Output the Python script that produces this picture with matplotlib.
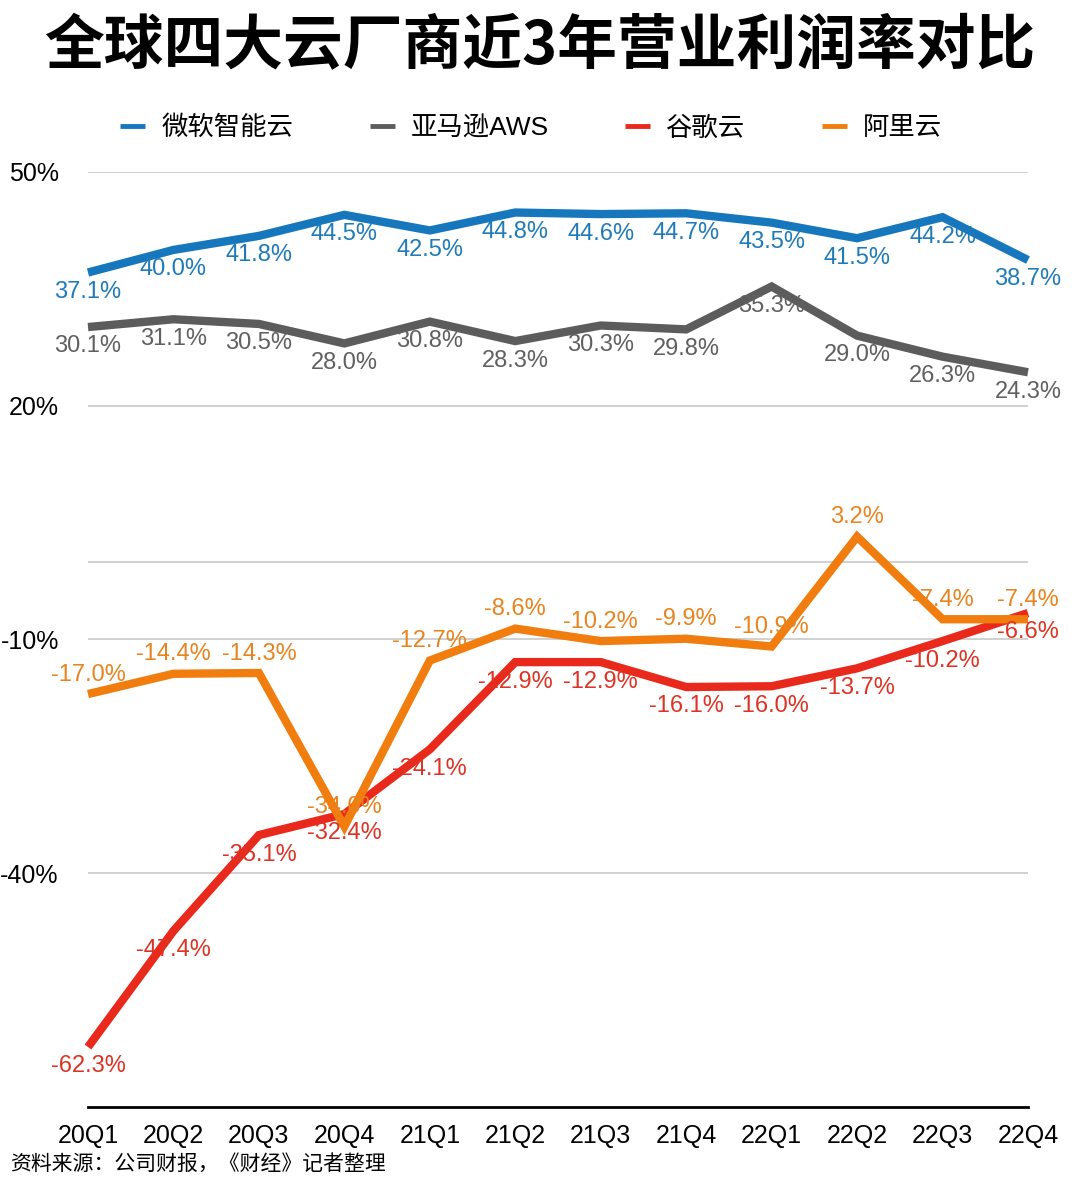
import matplotlib.pyplot as plt
import numpy as np

plt.rcParams['font.family'] = ['Liberation Sans', 'Noto Sans CJK SC', 'DejaVu Sans']

quarters = ['20Q1', '20Q2', '20Q3', '20Q4', '21Q1', '21Q2', '21Q3', '21Q4',
            '22Q1', '22Q2', '22Q3', '22Q4']
microsoft = [37.1, 40.0, 41.8, 44.5, 42.5, 44.8, 44.6, 44.7, 43.5, 41.5, 44.2, 38.7]
aws = [30.1, 31.1, 30.5, 28.0, 30.8, 28.3, 30.3, 29.8, 35.3, 29.0, 26.3, 24.3]
google = [-62.3, -47.4, -35.1, -32.4, -24.1, -12.9, -12.9, -16.1, -16.0, -13.7, -10.2, -6.6]
alibaba = [-17.0, -14.4, -14.3, -34.0, -12.7, -8.6, -10.2, -9.9, -10.9, 3.2, -7.4, -7.4]
yticks = [50, 20, -10, -40]

series = [
    ('微软智能云', microsoft, '#1677bd', '#1f7bb8', -1),
    ('亚马逊AWS', aws, '#5c5c5c', '#606060', -1),
    ('谷歌云', google, '#e8291b', '#de3324', -1),
    ('阿里云', alibaba, '#f07d0e', '#e8841f', 1),
]

fig = plt.figure(figsize=(10.8, 11.77), dpi=100)
ax = fig.add_axes([88 / 1080, 1 - 1107 / 1177, 940 / 1080, 935 / 1177])

x = np.arange(len(quarters))
for name, vals, color, tcolor, side in series:
    ax.plot(x, vals, color=color, lw=6, label=name, clip_on=False,
            solid_joinstyle='miter', solid_capstyle='butt', zorder=3)
for name, vals, color, tcolor, side in series:
    for xi, v in zip(x, vals):
        ax.annotate(f'{v:.1f}%', (xi, v), xytext=(0, 14 * side),
                    textcoords='offset points', ha='center', va='center',
                    fontsize=17, color=tcolor, zorder=4)

ax.set_xlim(0, 11)
ax.set_ylim(-70, 50)
for g in yticks + [0]:
    ax.axhline(g, color='#c8c8c8', lw=1.2, zorder=1)
ax.set_yticks(yticks)
ax.set_yticklabels([f'{t}%' for t in yticks], fontsize=18)
ax.set_xticks(x)
ax.set_xticklabels(quarters, fontsize=18)
ax.tick_params(axis='both', length=0)
ax.tick_params(axis='y', pad=21)
ax.tick_params(axis='x', pad=12)
for s in ['top', 'right', 'left']:
    ax.spines[s].set_visible(False)
ax.spines['bottom'].set_linewidth(2)
ax.spines['bottom'].set_color('black')

fig.text(0.5, 1 - 47 / 1177, '全球四大云厂商近3年营业利润率对比', ha='center', va='center',
         fontsize=43, fontweight='heavy', family=['Noto Sans CJK SC'])
leg = ax.legend(loc='center', bbox_to_anchor=(443 / 940, 1 + 44 / 935), ncol=4,
                frameon=False, fontsize=19, handlelength=0.95, handletextpad=0.6,
                columnspacing=2.9)
for h in leg.get_lines():
    h.set_linewidth(3.5)
fig.text(10 / 1080, 1 - 1164 / 1177, '资料来源：公司财报，《财经》记者整理', ha='left', va='center',
         fontsize=15, family=['Noto Sans CJK SC'])

fig.savefig('out.png', dpi=100)
